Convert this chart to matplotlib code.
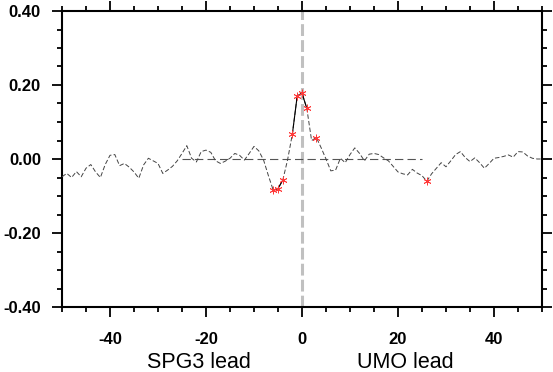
import matplotlib
matplotlib.use('Agg')
import matplotlib.pyplot as plt
import matplotlib.transforms as mtransforms
import numpy as np
from matplotlib.ticker import MultipleLocator, FuncFormatter

plt.rcParams['font.family'] = ['Liberation Sans', 'DejaVu Sans']
plt.rcParams['lines.scale_dashes'] = False

# ---- data ----
lags = list(range(-50, 51))
corr = [
    -0.048, -0.039, -0.050, -0.034, -0.048, -0.025, -0.015, -0.035, -0.050, -0.015,   # -50..-41
     0.010,  0.012, -0.018, -0.012, -0.022, -0.035, -0.052, -0.016,  0.002, -0.005,   # -40..-31
    -0.012, -0.039, -0.030, -0.020, -0.005,  0.015,  0.036,  0.002, -0.008,  0.020,   # -30..-21
     0.024,  0.018, -0.005, -0.012, -0.006,  0.002,  0.015,  0.010, -0.003,  0.015,   # -20..-11
     0.034,  0.022, -0.003, -0.045, -0.084, -0.080, -0.057, -0.002,  0.068,  0.170,   # -10..-1
     0.178,                                                                           # 0
     0.137,  0.050,  0.058,  0.030,  0.000, -0.032, -0.030,  0.002, -0.010,  0.012,   # 1..10
     0.030,  0.015, -0.005,  0.013,  0.015,  0.012,  0.003, -0.005, -0.020, -0.035,   # 11..20
    -0.040, -0.043, -0.028, -0.038, -0.045, -0.060, -0.040, -0.025, -0.010, -0.021,   # 21..30
    -0.005,  0.012,  0.020,  0.004, -0.007,  0.003, -0.010, -0.025, -0.012,  0.002,   # 31..40
     0.004,  0.007,  0.011,  0.005,  0.020,  0.019,  0.008,  0.002,  0.000,  0.000,   # 41..50
]
sig_lags = [-6, -5, -4, -2, -1, 0, 1, 3, 26]
zero_line_x = [-25, 25]
xticks = [-40, -20, 0, 20, 40]
yticks = [-0.4, -0.2, 0.0, 0.2, 0.4]
left_label = "SPG3 lead"
right_label = "UMO lead"

lags_a = np.array(lags)
corr_a = np.array(corr)
sig_mask = np.isin(lags_a, sig_lags)
corr_sig = np.where(sig_mask, corr_a, np.nan)

fig = plt.figure(figsize=(5.53, 3.72), dpi=100)
ax = fig.add_axes([62/553, 65/372, 480/553, 296/372])

# vertical grey dashed line at lag 0
ax.axvline(0, color='#c0c0c0', lw=2.2, linestyle=(0, (8.5, 3.0)), zorder=1)
# horizontal zero reference line
ax.plot(zero_line_x, [0, 0], color='#555555', lw=0.8, linestyle=(0, (6.0, 3.0)), zorder=2)
# full series dashed
ax.plot(lags_a, corr_a, color='#444444', lw=0.7, linestyle=(0, (3.2, 1.6)), zorder=3)
# significant segments solid
ax.plot(lags_a, corr_sig, color='black', lw=0.8, zorder=4)
# significant markers
ax.plot(lags_a[sig_mask], corr_a[sig_mask], linestyle='none', marker=(6, 2, 0),
        markersize=5.5, markeredgecolor='#ff3a3a', markeredgewidth=0.6, zorder=5)

ax.set_xlim(-50, 50)
ax.set_ylim(-0.4, 0.4)
ax.set_xticks(xticks)
ax.set_yticks(yticks)
ax.xaxis.set_minor_locator(MultipleLocator(5))
ax.yaxis.set_minor_locator(MultipleLocator(0.05))
ax.xaxis.set_major_formatter(FuncFormatter(lambda v, p: f"{int(round(v))}"))
ax.yaxis.set_major_formatter(FuncFormatter(lambda v, p: f"{v:.2f}".replace('-0.00', '0.00')))

for s in ax.spines.values():
    s.set_linewidth(1.5)

ax.tick_params(which='both', direction='out', top=True, right=True, width=1.3)
ax.tick_params(which='major', length=7.2)
ax.tick_params(which='minor', length=3.6)
ax.tick_params(axis='x', which='major', labelsize=12, pad=11)
ax.tick_params(axis='y', which='major', labelsize=12, pad=8)
for lab in ax.get_xticklabels() + ax.get_yticklabels():
    lab.set_fontweight('bold')

trans = mtransforms.blended_transform_factory(ax.transData, fig.transFigure)
ax.text(-21.5, 4/372, left_label, transform=trans, fontsize=15.5, ha='center', va='baseline')
ax.text(21.5, 4/372, right_label, transform=trans, fontsize=15.5, ha='center', va='baseline')

fig.savefig('out.png', dpi=100)
